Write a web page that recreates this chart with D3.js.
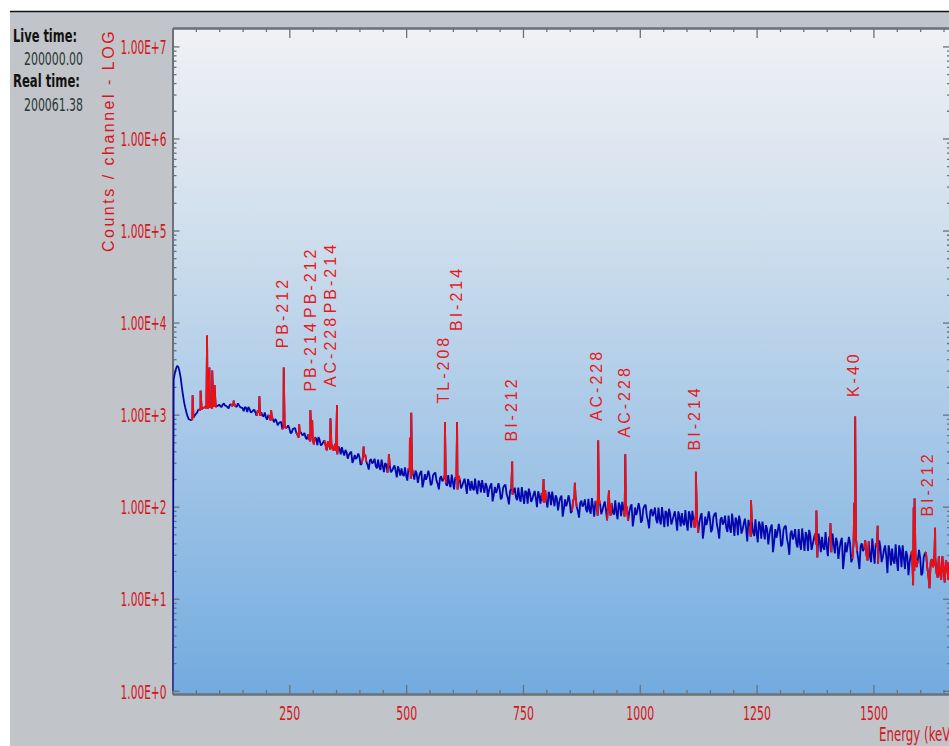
<!DOCTYPE html>
<html>
<head>
<meta charset="utf-8">
<script src="https://cdn.jsdelivr.net/npm/d3@7"></script>
<style>
  body { margin: 0; background: #fff; }
  svg { display: block; }
</style>
</head>
<body>
<div id="chart"></div>
<script>
// spectrum counts read every 5 keV, starting at 0 keV
const energyStep = 5;
const counts = [
  1, 2820, 3390, 2950, 2000, 1350, 1050, 890, 870, 930,
  1015, 1124, 1127, 1177, 1214, 1168, 1227, 1171, 1240, 1235,
  1284, 1209, 1319, 1244, 1168, 1299, 1269, 1229, 1324, 1204,
  1175, 1213, 1067, 1148, 1073, 1134, 971, 1051, 1058, 951,
  936, 989, 862, 881, 894, 767, 826, 695, 768, 727,
  713, 635, 708, 633, 561, 642, 604, 561, 610, 514,
  537, 567, 465, 527, 476, 523, 410, 470, 480, 409,
  404, 450, 371, 394, 413, 332, 385, 299, 365, 344,
  348, 293, 358, 306, 253, 328, 304, 275, 325, 251,
  275, 297, 234, 277, 247, 280, 208, 250, 261, 215,
  218, 262, 200, 225, 246, 181, 233, 162, 226, 213,
  216, 178, 229, 192, 154, 214, 198, 178, 220, 163,
  186, 208, 154, 194, 169, 201, 138, 179, 190, 151,
  157, 192, 143, 163, 180, 128, 169, 114, 164, 154,
  158, 126, 169, 137, 106, 156, 143, 126, 161, 113,
  132, 149, 108, 140, 121, 148, 99, 131, 141, 110,
  116, 145, 104, 120, 133, 91, 125, 78, 120, 111,
  115, 90, 125, 100, 76, 116, 106, 93, 122, 84,
  100, 115, 80, 107, 91, 114, 71, 100, 109, 82,
  87, 111, 79, 92, 106, 70, 100, 61, 98, 91,
  94, 71, 102, 80, 58, 94, 85, 73, 98, 64,
  78, 90, 61, 84, 71, 89, 55, 78, 85, 63,
  67, 89, 59, 72, 84, 52, 79, 45, 78, 71,
  75, 57, 83, 64, 45, 77, 68, 59, 80, 52,
  65, 76, 49, 69, 56, 74, 42, 62, 68, 48,
  52, 69, 45, 55, 63, 39, 59, 32, 57, 53,
  55, 39, 61, 45, 30, 55, 48, 40, 57, 34,
  44, 53, 33, 48, 39, 51, 28, 43, 47, 34,
  37, 47, 32, 39, 46, 27, 42, 21, 41, 38,
  40, 27, 44, 33, 21, 40, 35, 30, 42, 25,
  33, 40, 24, 36, 28, 38, 19, 32, 35, 24,
  26, 38, 22, 28, 33, 18, 30, 14, 30, 26,
  28, 19, 31, 22, 13, 27, 24, 19, 29, 16,
  21, 26, 16, 22
];

// counts read halfway between, at 2.5 keV + every 5 keV
const countsHalf = [
  2400, 3150, 3300, 2500, 1620, 1180, 950, 880, 895, 975,
  1050, 1135, 1150, 1195, 1180, 1220, 1200, 1235, 1215, 1250,
  1235, 1290, 1250, 1205, 1275, 1240, 1300, 1215, 1260, 1190,
  1089, 1185, 1209, 1055, 1107, 1054, 1108, 972, 976, 1056,
  881, 948, 957, 825, 855, 804, 832, 721, 715, 762,
  631, 696, 711, 603, 636, 598, 632, 540, 541, 595,
  476, 549, 570, 462, 503, 468, 510, 418, 425, 482,
  370, 427, 443, 359, 390, 364, 396, 324, 330, 378,
  285, 346, 366, 284, 318, 295, 332, 261, 271, 324,
  238, 287, 302, 236, 264, 245, 274, 217, 224, 268,
  192, 244, 263, 197, 230, 211, 245, 187, 196, 246,
  171, 218, 235, 177, 205, 189, 221, 168, 178, 223,
  154, 200, 216, 158, 186, 170, 200, 149, 158, 202,
  137, 178, 194, 141, 166, 152, 179, 133, 141, 180,
  120, 160, 174, 125, 149, 136, 161, 118, 126, 163,
  107, 143, 157, 113, 135, 124, 147, 108, 115, 151,
  98, 133, 146, 101, 123, 111, 132, 94, 101, 133,
  85, 117, 129, 90, 110, 100, 120, 87, 93, 124,
  78, 110, 122, 83, 103, 93, 113, 80, 86, 117,
  73, 102, 113, 78, 96, 87, 106, 75, 81, 109,
  67, 95, 105, 70, 89, 79, 98, 66, 72, 99,
  60, 86, 95, 64, 80, 72, 89, 61, 67, 92,
  55, 80, 90, 59, 75, 67, 85, 57, 63, 89,
  53, 77, 86, 56, 72, 64, 80, 53, 59, 84,
  48, 71, 80, 51, 66, 58, 72, 47, 52, 73,
  41, 62, 69, 44, 57, 50, 64, 41, 46, 65,
  37, 56, 62, 39, 51, 44, 57, 36, 40, 58,
  33, 49, 56, 34, 45, 39, 51, 32, 36, 53,
  29, 45, 51, 31, 41, 35, 46, 28, 32, 47,
  25, 40, 47, 27, 37, 33, 43, 26, 29, 45,
  24, 37, 43, 25, 34, 29, 38, 23, 26, 39,
  20, 33, 38, 21, 29, 25, 33, 20, 22, 34,
  18, 28, 32, 18, 25, 22, 28, 17, 19, 29,
  15, 24, 25
];

// peaks (energy keV, counts at the top)
const peakEnergies = [43, 60, 74, 79, 85, 90, 131, 186, 211, 238, 271, 295, 299, 338, 352, 409, 463, 508, 511, 583, 609, 727, 794, 861, 911, 934, 969, 1120, 1238, 1378, 1408, 1459, 1461, 1509, 1586, 1588, 1632];
const peakCounts   = [1620, 1820, 7250, 3250, 3020, 2090, 1420, 1585, 1120, 3250, 790, 1120, 870, 910, 1260, 450, 370, 560, 1050, 830, 830, 310, 200, 182, 525, 150, 370, 240, 117, 91, 66, 110, 955, 62, 98, 123, 59];

// regions of interest drawn in red
const roiStart = [40, 55, 125, 180, 205, 235, 265, 290, 325, 405, 460, 505, 580, 605, 725, 790, 855, 905, 930, 965, 1115, 1235, 1375, 1405, 1455, 1480, 1505, 1580, 1610];
const roiEnd   = [45, 95, 135, 190, 215, 245, 275, 305, 355, 415, 465, 515, 585, 615, 730, 800, 865, 915, 940, 975, 1125, 1240, 1380, 1410, 1465, 1490, 1510, 1595, 1665];

// peak labels
const labelTexts    = ["PB-212", "PB-214", "PB-212", "AC-228", "PB-214", "TL-208", "BI-214", "BI-212", "AC-228", "AC-228", "BI-214", "K-40", "BI-212"];
const labelEnergies = [234, 295, 295, 337, 337, 579, 607, 725, 906, 966, 1116, 1457, 1615];
const labelCounts   = [5250, 1780, 11200, 1990, 12600, 1320, 8100, 510, 850, 565, 408, 1550, 78];

// axis ticks
const xMajorTicks = [250, 500, 750, 1000, 1250, 1500];
const yMajorTicks = [1, 10, 100, 1000, 10000, 100000, 1000000, 10000000];

const liveTime = "200000.00";
const realTime = "200061.38";

const width = 949;
const height = 746;
const plotLeft = 172.5;
const plotRight = 951;
const plotTop = 28;
const plotBottom = 694;

const x = d3.scaleLinear().domain([0, 1666]).range([plotLeft, plotRight]);
const y = d3.scaleLog().domain([Math.pow(10, -0.035), Math.pow(10, 7.2)]).range([plotBottom, plotTop]);

const svg = d3.select("#chart").append("svg")
  .attr("width", width)
  .attr("height", height);

const narrow = "'Liberation Sans Narrow', 'DejaVu Sans Condensed', 'Arial Narrow', sans-serif";
const axisRed = "#d4141c";
const axisGray = "#6b7178";

// fond gris + bande blanche
svg.append("rect").attr("width", width).attr("height", height).attr("fill", "#fff");
svg.append("rect").attr("x", 10).attr("y", 12).attr("width", width - 10).attr("height", height - 12).attr("fill", "#c1c4c8");
svg.append("line").attr("x1", 10).attr("x2", width).attr("y1", 11.5).attr("y2", 11.5).attr("stroke", "#111").attr("stroke-width", 1.6);

const defs = svg.append("defs");
const grad = defs.append("linearGradient").attr("id", "bgGrad")
  .attr("x1", "0%").attr("x2", "0%").attr("y1", "0%").attr("y2", "100%");
grad.append("stop").attr("offset", "0%").attr("stop-color", "#f0f1f4");
grad.append("stop").attr("offset", "30%").attr("stop-color", "#d0dfed");
grad.append("stop").attr("offset", "62%").attr("stop-color", "#a5c7e7");
grad.append("stop").attr("offset", "100%").attr("stop-color", "#72abdf");

defs.append("clipPath").attr("id", "plotClip")
  .append("rect").attr("x", plotLeft).attr("y", plotTop)
  .attr("width", plotRight - plotLeft).attr("height", plotBottom - plotTop);

svg.append("rect")
  .attr("x", plotLeft).attr("y", plotTop)
  .attr("width", plotRight - plotLeft).attr("height", plotBottom - plotTop)
  .attr("fill", "url(#bgGrad)");

// minor tick values
const xMinorTicks = d3.range(50, 1700, 50).filter(v => v % 250 !== 0);
const yMinorTicks = [];
for (let d = 0; d < 8; d++) {
  for (let m = 2; m <= 9; m++) {
    const v = m * Math.pow(10, d);
    if (v < y.domain()[1]) yMinorTicks.push(v);
  }
}

function styleAxis(g) {
  g.select(".domain").attr("stroke", axisGray).attr("stroke-width", 2);
  g.selectAll(".tick line").attr("stroke", axisGray).attr("stroke-width", 1.3);
}

// axes : ticks vers l'intérieur
svg.append("g").attr("transform", `translate(0,${plotBottom})`)
  .call(d3.axisBottom(x).tickValues(xMinorTicks).tickSizeInner(-4).tickSizeOuter(0).tickFormat(""))
  .call(styleAxis);
const xAxis = svg.append("g").attr("transform", `translate(0,${plotBottom})`)
  .call(d3.axisBottom(x).tickValues(xMajorTicks).tickSizeInner(-9).tickSizeOuter(0).tickFormat(d3.format("d")))
  .call(styleAxis);

svg.append("g").attr("transform", `translate(0,${plotTop})`)
  .call(d3.axisTop(x).tickValues(xMinorTicks).tickSizeInner(-4).tickSizeOuter(0).tickFormat(""))
  .call(styleAxis);
svg.append("g").attr("transform", `translate(0,${plotTop})`)
  .call(d3.axisTop(x).tickValues(xMajorTicks).tickSizeInner(-10).tickSizeOuter(0).tickFormat(""))
  .call(styleAxis);

svg.append("g").attr("transform", `translate(${plotLeft},0)`)
  .call(d3.axisLeft(y).tickValues(yMinorTicks).tickSizeInner(-4).tickSizeOuter(0).tickFormat(""))
  .call(styleAxis);
const yAxis = svg.append("g").attr("transform", `translate(${plotLeft},0)`)
  .call(d3.axisLeft(y).tickValues(yMajorTicks).tickSizeInner(-7).tickSizeOuter(0)
    .tickFormat(d => d3.format(".2e")(d).toUpperCase()))
  .call(styleAxis);

svg.append("g").attr("transform", `translate(${plotRight},0)`)
  .call(d3.axisRight(y).tickValues(yMinorTicks).tickSizeInner(-4).tickSizeOuter(0).tickFormat(""))
  .call(styleAxis);
svg.append("g").attr("transform", `translate(${plotRight},0)`)
  .call(d3.axisRight(y).tickValues(yMajorTicks).tickSizeInner(-8).tickSizeOuter(0).tickFormat(""))
  .call(styleAxis);

xAxis.selectAll("text")
  .attr("y", 19).attr("dy", "0.35em")
  .attr("fill", axisRed)
  .style("font-family", narrow).style("font-size", "19px")
  .attr("lengthAdjust", "spacingAndGlyphs")
  .attr("textLength", function() { return this.textContent.length * 7; });

yAxis.selectAll("text")
  .attr("x", -6).attr("dy", "0.38em")
  .attr("fill", axisRed)
  .style("font-family", narrow).style("font-size", "19px")
  .attr("lengthAdjust", "spacingAndGlyphs")
  .attr("textLength", 46);

// spectre : points tous les 2.5 keV + sommets des pics
const spectrum = counts.map((c, i) => ({ e: i * energyStep, c: c }))
  .concat(countsHalf.map((c, i) => ({ e: i * energyStep + energyStep / 2, c: c })))
  .concat(peakEnergies.map((e, i) => ({ e: e, c: peakCounts[i] })))
  .sort((a, b) => a.e - b.e);

const line = d3.line()
  .x(d => x(d.e))
  .y(d => y(d.c));

const plot = svg.append("g").attr("clip-path", "url(#plotClip)");

plot.append("path")
  .datum(spectrum)
  .attr("fill", "none")
  .attr("stroke", "#0606b0")
  .attr("stroke-width", 1.8)
  .attr("stroke-linejoin", "bevel")
  .attr("d", line);

roiStart.forEach((start, i) => {
  const seg = spectrum.filter(d => d.e >= start && d.e <= roiEnd[i]);
  plot.append("path")
    .datum(seg)
    .attr("fill", "none")
    .attr("stroke", "#f01010")
    .attr("stroke-width", 1.8)
    .attr("stroke-linejoin", "bevel")
    .attr("d", line);
});

// étiquettes des pics
plot.selectAll(".peakLabel")
  .data(labelTexts)
  .enter()
  .append("text")
  .attr("class", "peakLabel")
  .attr("transform", (d, i) => `translate(${x(labelEnergies[i])},${y(labelCounts[i])}) rotate(-90)`)
  .attr("dy", "0.36em")
  .attr("fill", "#e41a1a")
  .style("font-family", "'Liberation Sans', Arial, sans-serif")
  .style("font-size", "16px")
  .style("letter-spacing", "3px")
  .text(d => d);

// titres des axes
svg.append("text")
  .attr("transform", "translate(108.5,252) rotate(-90)")
  .attr("dy", "0.36em")
  .attr("fill", "#d8141c")
  .style("font-family", "'Liberation Sans', Arial, sans-serif")
  .style("font-size", "16px")
  .style("letter-spacing", "2.5px")
  .text("Counts / channel - LOG");

svg.append("text")
  .attr("x", 879).attr("y", 741)
  .attr("fill", axisRed)
  .style("font-family", narrow).style("font-size", "19px")
  .attr("lengthAdjust", "spacingAndGlyphs")
  .attr("textLength", 76)
  .text("Energy (keV)");

// panneau gauche
const info = [
  { t: "Live time:", x: 13, y: 42, w: 64, bold: true },
  { t: liveTime, x: 24, y: 65, w: 59, bold: false },
  { t: "Real time:", x: 13, y: 87, w: 67, bold: true },
  { t: realTime, x: 24, y: 111, w: 59, bold: false }
];
svg.selectAll(".info")
  .data(info)
  .enter()
  .append("text")
  .attr("class", "info")
  .attr("x", d => d.x).attr("y", d => d.y)
  .attr("fill", d => d.bold ? "#111" : "#263636")
  .style("font-family", narrow)
  .style("font-size", "18px")
  .style("font-weight", d => d.bold ? "bold" : "normal")
  .attr("lengthAdjust", "spacingAndGlyphs")
  .attr("textLength", d => d.w)
  .text(d => d.t);
</script>
</body>
</html>
